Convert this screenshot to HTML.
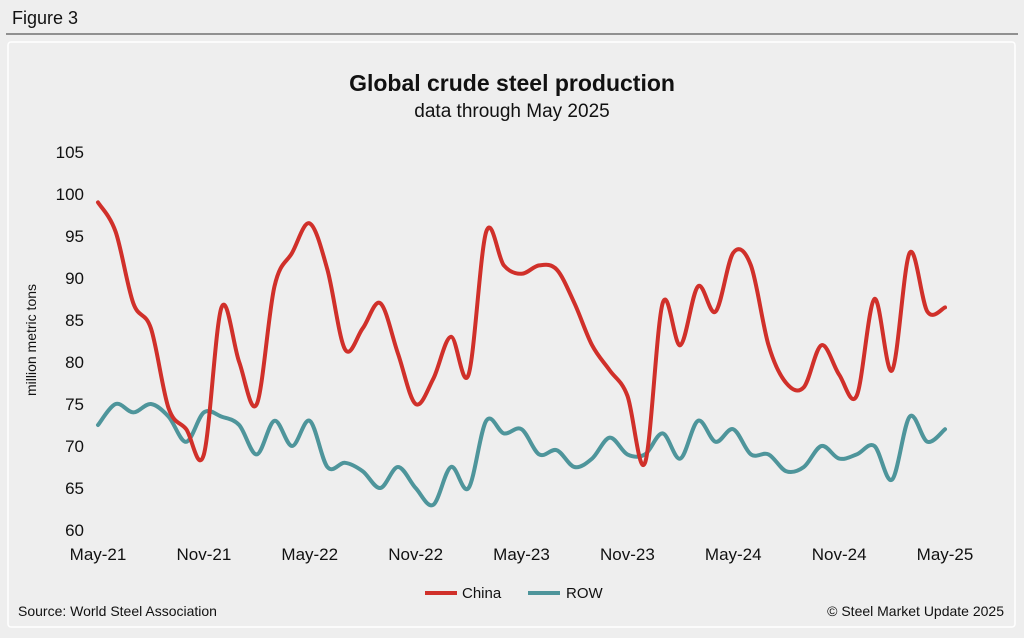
<!DOCTYPE html>
<html><head><meta charset="utf-8"><style>
body{margin:0;width:1024px;height:633px;background:#eeeeee;font-family:"Liberation Sans",Arial,sans-serif;overflow:hidden}
</style></head><body>
<svg width="1024" height="633" xmlns="http://www.w3.org/2000/svg">
<rect x="0" y="0" width="1024" height="633" fill="#eeeeee"/>
<text x="12" y="24" font-size="18" fill="#111">Figure 3</text>
<line x1="6" y1="34" x2="1018" y2="34" stroke="#333" stroke-width="1"/>
<rect x="8" y="42" width="1007" height="585" fill="#eeeeee" stroke="#ffffff" stroke-width="1.5" rx="3"/>
<text x="512" y="91" font-size="23" font-weight="bold" text-anchor="middle" fill="#111">Global crude steel production</text>
<text x="512" y="117" font-size="19" text-anchor="middle" fill="#111">data through May 2025</text>
<text x="36" y="340" font-size="14" text-anchor="middle" fill="#111" transform="rotate(-90 36 340)">million metric tons</text>
<g id="yticks"></g><g id="xticks"></g><g id="series"></g>
<g>
<line x1="425" y1="593" x2="457" y2="593" stroke="#d0302a" stroke-width="4"/>
<text x="462" y="598" font-size="15" fill="#111">China</text>
<line x1="528" y1="593" x2="560" y2="593" stroke="#4e959b" stroke-width="4"/>
<text x="566" y="598" font-size="15" fill="#111">ROW</text>
</g>
<text x="18" y="616" font-size="14" fill="#111">Source: World Steel Association</text>
<text x="1004" y="616" font-size="14" text-anchor="end" fill="#111">© Steel Market Update 2025</text>
</svg>
<script>
const yTicks=[60,65,70,75,80,85,90,95,100,105];
const xLabels=["May-21","Nov-21","May-22","Nov-22","May-23","Nov-23","May-24","Nov-24","May-25"];
const china=[99,95.5,87,84,74.5,72,69,86.5,80,75,89,93,96.5,91,81.5,84,87,81,75,78,83,78.5,95.5,91.5,90.5,91.5,91,87,82,79,76,68,87,82,89,86,93,91.5,82,77.5,77,82,78.5,76,87.5,79,93,86,86.5];
const row=[72.5,75,74,75,73.5,70.5,74,73.5,72.5,69,73,70,73,67.5,68,67,65,67.5,65,63,67.5,65,73,71.5,72,69,69.5,67.5,68.5,71,69,69,71.5,68.5,73,70.5,72,69,69,67,67.5,70,68.5,69,70,66,73.5,70.5,72];
const NS="http://www.w3.org/2000/svg";
const x0=98,x1=945,yBot=530,yTop=152;
function xs(i){return x0+(x1-x0)*i/48;}
function ys(v){return yBot-(v-60)/(105-60)*(yBot-yTop);}
const yg=document.getElementById('yticks');
yTicks.forEach(v=>{const t=document.createElementNS(NS,'text');


t.setAttribute('x',84);t.setAttribute('y',ys(v)+6);t.setAttribute('text-anchor','end');t.setAttribute('font-size','17');t.setAttribute('fill','#111');t.textContent=v;yg.appendChild(t);});
const xg=document.getElementById('xticks');
xLabels.forEach((l,k)=>{const t=document.createElementNS(NS,'text');


t.setAttribute('x',xs(k*6));t.setAttribute('y',560);t.setAttribute('text-anchor','middle');t.setAttribute('font-size','17');t.setAttribute('fill','#111');t.textContent=l;xg.appendChild(t);});
function path(d){const p=d.map((v,i)=>[xs(i),ys(v)]);let s=`M${p[0][0]},${p[0][1]}`;
for(let i=0;i<p.length-1;i++){const a=p[i-1]||p[i],b=p[i],c=p[i+1],e=p[i+2]||c;
s+=` C${b[0]+(c[0]-a[0])/6},${b[1]+(c[1]-a[1])/6} ${c[0]-(e[0]-b[0])/6},${c[1]-(e[1]-b[1])/6} ${c[0]},${c[1]}`;}return s;}
const sg=document.getElementById('series');
[[row,'#4e959b','row-line'],[china,'#d0302a','china-line']].forEach(([d,c,n])=>{const p=document.createElementNS(NS,'path');


p.setAttribute('d',path(d));p.setAttribute('fill','none');p.setAttribute('stroke',c);p.setAttribute('stroke-width','4');p.setAttribute('stroke-linecap','round');p.setAttribute('stroke-linejoin','round');sg.appendChild(p);});
</script>
</body></html>
